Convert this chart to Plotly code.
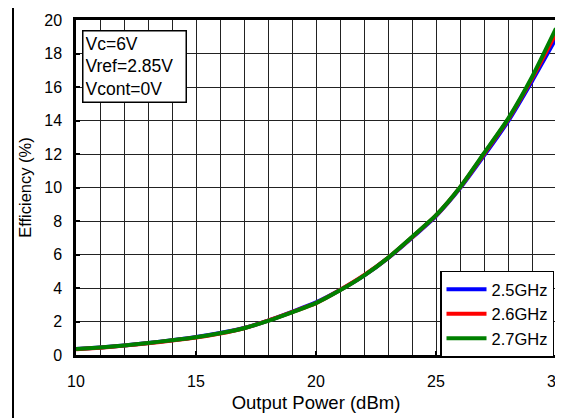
import plotly.graph_objects as go

power = [10, 11, 12, 13, 14, 15, 16, 17, 18, 19, 20, 21, 22, 23, 24, 25, 26, 27, 28, 29, 30]
eff_25 = [0.36, 0.45, 0.57, 0.72, 0.88, 1.07, 1.31, 1.61, 2.05, 2.58, 3.14, 3.88, 4.74, 5.78, 7.0, 8.3, 9.95, 11.9, 13.95, 16.35, 18.9]
eff_26 = [0.35, 0.44, 0.56, 0.70, 0.86, 1.04, 1.28, 1.60, 2.05, 2.56, 3.10, 3.88, 4.76, 5.80, 7.03, 8.33, 10.0, 12.0, 14.05, 16.5, 19.2]
eff_27 = [0.36, 0.45, 0.57, 0.72, 0.88, 1.06, 1.30, 1.60, 2.04, 2.55, 3.10, 3.86, 4.74, 5.80, 7.05, 8.35, 10.02, 12.05, 14.1, 16.6, 19.5]

series_names = ["2.5GHz", "2.6GHz", "2.7GHz"]
series_vals = [eff_25, eff_26, eff_27]
series_colors = ["#0000ff", "#ff0000", "#008000"]

note_lines = ["Vc=6V", "Vref=2.85V", "Vcont=0V"]

FONT = "Liberation Sans, Arial, sans-serif"

fig = go.Figure()
for name, vals, col in zip(series_names, series_vals, series_colors):
    fig.add_trace(go.Scatter(x=power, y=vals, mode="lines", name=name,
                             line=dict(color=col, width=4, shape="spline", smoothing=0.6)))

# page body has an 8px margin; figure is sized to fill the rest of the window
OFF = 8
W, H = 563 - OFF, 418 - OFF
L, R, T, B = 76 - OFF, 7, 20 - OFF, 63
pw, ph = W - L - R, H - T - B

def px_x(p):  # p in window pixels
    return (p - OFF - L) / pw

def px_y(p):
    return (H - B - (p - OFF)) / ph

fig.update_layout(
    width=W, height=H,
    margin=dict(l=L, r=R, t=T, b=B, autoexpand=False),
    paper_bgcolor="white", plot_bgcolor="white",
    font=dict(family=FONT, size=16, color="black"),
    showlegend=True,
    legend=dict(x=px_x(554), y=px_y(314), xanchor="right", yanchor="middle",
                bgcolor="white", bordercolor="black", borderwidth=1.5,
                font=dict(family=FONT, size=16.5, color="black"),
                tracegroupgap=0, itemwidth=40),
    xaxis=dict(range=[10, 30], dtick=5, tick0=10, showline=True, linewidth=2.5,
               linecolor="black", mirror=True, ticks="inside", ticklen=4,
               tickwidth=1.5, tickcolor="black", showgrid=True, gridcolor="#222",
               gridwidth=1, zeroline=False, automargin=False,
               ticklabeloverflow="allow", ticklabelstandoff=10,
               minor=dict(dtick=1, showgrid=True, gridcolor="#222", gridwidth=1),
               tickfont=dict(family=FONT, size=16),
               title=dict(text="Output Power (dBm)", font=dict(family=FONT, size=18.5),
                          standoff=8)),
    yaxis=dict(range=[0, 20], dtick=2, showline=True, linewidth=2.5,
               linecolor="black", mirror=True, ticks="inside", ticklen=4,
               tickwidth=1.5, tickcolor="black", showgrid=True, gridcolor="#222",
               gridwidth=1, zeroline=False, automargin=False,
               ticklabelstandoff=8,
               tickfont=dict(family=FONT, size=16),
               title=dict(text="Efficiency (%)", font=dict(family=FONT, size=16.5),
                          standoff=9)),
    annotations=[dict(
        text="<br>".join(note_lines), xref="paper", yref="paper",
        x=px_x(82), y=px_y(30), xanchor="left", yanchor="top", align="left",
        width=98, showarrow=False, bgcolor="white", bordercolor="black",
        borderwidth=1.5, borderpad=2,
        font=dict(family=FONT, size=17.5, color="black"))],
    shapes=[
        dict(type="line", xref="paper", yref="paper", x0=px_x(13), x1=px_x(13),
             y0=px_y(6), y1=px_y(420), line=dict(color="black", width=2)),
        dict(type="line", xref="paper", yref="paper", x0=px_x(13), x1=px_x(565),
             y0=px_y(6), y1=px_y(6), line=dict(color="black", width=2)),
    ],
)

fig.write_html("out.html")
